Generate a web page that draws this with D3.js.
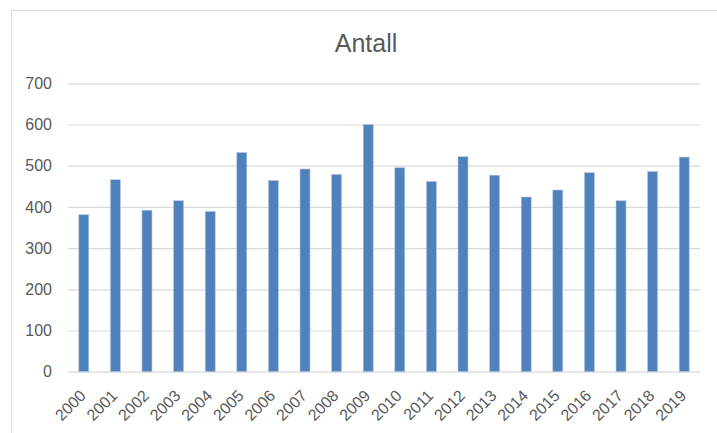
<html>
  <meta charset="utf-8" />
  <script src="https://d3js.org/d3.v7.min.js"></script>
  <style>
    body { margin: 0; background: #fff; }
    text { font-family: "Liberation Sans", Arial, sans-serif; fill: #595959; }
  </style>
  <body>
    <svg width="717" height="433" id="chart"></svg>
    <script>
      const years = ["2000", "2001", "2002", "2003", "2004", "2005", "2006", "2007", "2008", "2009",
                     "2010", "2011", "2012", "2013", "2014", "2015", "2016", "2017", "2018", "2019"];
      const antall = [381, 466, 392, 415, 389, 532, 464, 492, 479, 600,
                      495, 462, 522, 477, 424, 441, 483, 415, 486, 521];
      const yTicks = [0, 100, 200, 300, 400, 500, 600, 700];

      const svg = d3.select("#chart");
      const plotLeft = 68, plotRight = 700, plotTop = 83.3, plotBottom = 371.7;

      // outer chart border (runs off the picture on the right and bottom)
      svg.append("rect")
        .attr("x", 11.5).attr("y", 10.5)
        .attr("width", 760).attr("height", 500)
        .attr("fill", "none")
        .attr("stroke", "#d9d9d9");

      const x = d3.scaleBand()
        .domain(years)
        .range([plotLeft, plotRight])
        .paddingInner(0.684)
        .paddingOuter(0.342);

      const y = d3.scaleLinear().domain([0, 700]).range([plotBottom, plotTop]);

      // gridlines + labels
      const yAxis = svg.append("g")
        .attr("transform", `translate(${plotLeft},0)`)
        .call(d3.axisLeft(y).tickValues(yTicks).tickSize(-(plotRight - plotLeft)).tickPadding(16));
      yAxis.select(".domain").remove();
      yAxis.selectAll("line").attr("stroke", "#d9d9d9").attr("stroke-width", 1.2);
      yAxis.selectAll("text")
        .attr("fill", "#595959")
        .style("font-size", "16px")
        .style("font-family", "'Liberation Sans', Arial, sans-serif");

      svg.append("g")
        .selectAll("rect")
        .data(antall)
        .enter()
        .append("rect")
        .attr("x", (d, i) => x(years[i]))
        .attr("y", (d) => y(d))
        .attr("width", x.bandwidth())
        .attr("height", (d) => y(0) - y(d))
        .attr("fill", "#4f81bd")
        .attr("stroke", "#b3c9e4")
        .attr("stroke-width", 0.6);

      // x labels, rotated
      svg.append("g")
        .selectAll("text")
        .data(years)
        .enter()
        .append("text")
        .attr("transform", (d) => `translate(${x(d) + x.bandwidth() / 2 + 3},${plotBottom + 25}) rotate(-45)`)
        .attr("text-anchor", "end")
        .style("font-size", "16px")
        .text((d) => d);

      svg.append("text")
        .attr("x", 366)
        .attr("y", 52)
        .attr("text-anchor", "middle")
        .style("font-size", "25px")
        .text("Antall");
    </script>
  </body>
</html>
